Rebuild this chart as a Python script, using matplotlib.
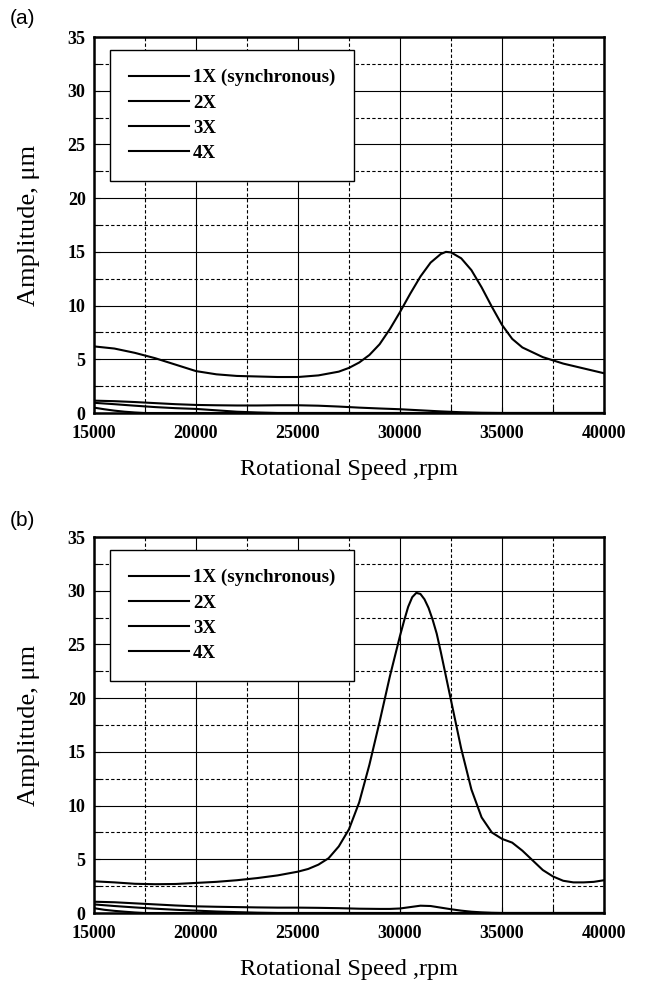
import matplotlib
matplotlib.use("Agg")
import matplotlib.pyplot as plt
from matplotlib.ticker import MultipleLocator

# ---------------- data (a) ----------------
a_1x_x = [15000,16000,17000,18000,19000,20000,21000,22000,23000,24000,25000,26000,27000,27500,28000,28500,29000,29500,30000,30500,31000,31500,32000,32250,32500,33000,33500,34000,34500,35000,35500,36000,37000,38000,39000,40000]
a_1x_y = [6.2,6.0,5.6,5.1,4.5,3.9,3.6,3.45,3.4,3.35,3.35,3.5,3.85,4.2,4.7,5.4,6.4,7.8,9.4,11.1,12.7,14.0,14.8,15.0,14.95,14.4,13.3,11.7,9.9,8.2,6.9,6.1,5.2,4.6,4.15,3.7]
a_2x_x = [15000,16000,17000,18000,19000,20000,21000,22000,23000,24000,25000,26000,27000,28000,29000,30000,31000,32000,33000,34000,35000,40000]
a_2x_y = [1.15,1.1,1.02,0.92,0.82,0.75,0.72,0.7,0.7,0.72,0.72,0.68,0.6,0.5,0.42,0.35,0.25,0.15,0.07,0.02,0.0,0.0]
a_3x_x = [15000,16000,17000,18000,19000,20000,21000,22000,23000,24000,40000]
a_3x_y = [0.95,0.82,0.68,0.55,0.45,0.38,0.25,0.12,0.05,0.0,0.0]
a_4x_x = [15000,15500,16000,16500,17000,17500,40000]
a_4x_y = [0.5,0.35,0.22,0.12,0.05,0.0,0.0]

# ---------------- data (b) ----------------
b_1x_x = [15000,16000,17000,18000,19000,20000,21000,22000,23000,24000,25000,25500,26000,26500,27000,27500,28000,28500,29000,29500,30000,30200,30400,30600,30800,31000,31200,31400,31600,31800,32000,32500,33000,33500,34000,34500,35000,35500,36000,36500,37000,37500,38000,38500,39000,39500,40000]
b_1x_y = [2.95,2.85,2.72,2.68,2.7,2.8,2.9,3.05,3.25,3.5,3.85,4.1,4.5,5.1,6.2,7.8,10.3,13.8,17.8,22.0,25.8,27.2,28.5,29.4,29.8,29.7,29.2,28.4,27.3,26.0,24.3,19.8,15.3,11.5,8.9,7.5,6.9,6.55,5.8,4.9,4.0,3.4,3.0,2.85,2.85,2.9,3.05]
b_2x_x = [15000,16000,17000,18000,19000,20000,21000,22000,23000,24000,25000,26000,27000,28000,29000,29500,30000,30500,31000,31500,32000,32500,33000,33500,34000,34500,35000,40000]
b_2x_y = [1.05,1.0,0.9,0.8,0.7,0.62,0.58,0.55,0.52,0.5,0.5,0.48,0.45,0.4,0.38,0.38,0.42,0.55,0.68,0.65,0.5,0.35,0.22,0.12,0.06,0.02,0.0,0.0]
b_3x_x = [15000,16000,17000,18000,19000,20000,21000,22000,23000,24000,40000]
b_3x_y = [0.8,0.65,0.52,0.4,0.3,0.22,0.14,0.08,0.03,0.0,0.0]
b_4x_x = [15000,15500,16000,16500,17000,17500,40000]
b_4x_y = [0.45,0.3,0.2,0.12,0.05,0.0,0.0]

labels = ["1X (synchronous)", "2X", "3X", "4X"]
x_ticks = [15000, 20000, 25000, 30000, 35000, 40000]
y_ticks = [0, 5, 10, 15, 20, 25, 30, 35]

W, H = 646, 986
fig = plt.figure(figsize=(W / 100, H / 100), dpi=100)

serif = ["Liberation Serif", "DejaVu Serif"]


def make_panel(rect, series, tag, tag_y):
    ax = fig.add_axes(rect)
    for (xs, ys), lab in zip(series, labels):
        ax.plot(xs, ys, color="black", lw=1.5, label=lab, clip_on=True)
    ax.set_xlim(15000, 40000)
    ax.set_ylim(0, 35)
    ax.set_xticks(x_ticks)
    ax.set_yticks(y_ticks)
    ax.xaxis.set_minor_locator(MultipleLocator(2500))
    ax.yaxis.set_minor_locator(MultipleLocator(2.5))
    ax.grid(which="major", color="black", lw=0.8, ls="-")
    ax.grid(which="minor", color="black", lw=0.8, ls=(0, (3, 2)))
    ax.set_axisbelow(True)
    ax.tick_params(which="both", direction="in", length=4, width=0.8,
                   top=False, right=False)
    for lab in ax.get_xticklabels() + ax.get_yticklabels():
        lab.set_fontfamily(serif)
        lab.set_fontweight("bold")
        lab.set_fontsize(13)
    ax.tick_params(axis="x", pad=9)
    ax.tick_params(axis="y", pad=6)
    for s in ax.spines.values():
        s.set_linewidth(1.8)
    ax.set_xlabel("Rotational Speed ,rpm", fontfamily=serif, fontsize=17.5, labelpad=12)
    ax.set_ylabel("Amplitude, \u03bcm", fontfamily=serif, fontsize=19, labelpad=20)
    leg = ax.legend(loc="upper left", bbox_to_anchor=(0.031, 0.965),
                    frameon=True, fancybox=False, edgecolor="black",
                    framealpha=1, borderpad=1.0, handlelength=3.2,
                    handletextpad=0.2, labelspacing=0.42, borderaxespad=0,
                    prop={"family": serif, "weight": "bold", "size": 13.6})
    leg.get_frame().set_linewidth(1.0)
    leg.set_zorder(5)
    fig.text(10 / W, tag_y, tag, fontfamily=["Liberation Sans", "DejaVu Sans"],
             fontsize=15, va="center", ha="left")
    return ax


top = 1 - 413 / H
bot = 1 - 913 / H
hgt = 376 / H
make_panel([94 / W, top, 510 / W, hgt],
           [(a_1x_x, a_1x_y), (a_2x_x, a_2x_y), (a_3x_x, a_3x_y), (a_4x_x, a_4x_y)],
           "(a)", 1 - 18 / H)
make_panel([94 / W, bot, 510 / W, hgt],
           [(b_1x_x, b_1x_y), (b_2x_x, b_2x_y), (b_3x_x, b_3x_y), (b_4x_x, b_4x_y)],
           "(b)", 1 - 520 / H)

fig.savefig("out.png", dpi=100)
